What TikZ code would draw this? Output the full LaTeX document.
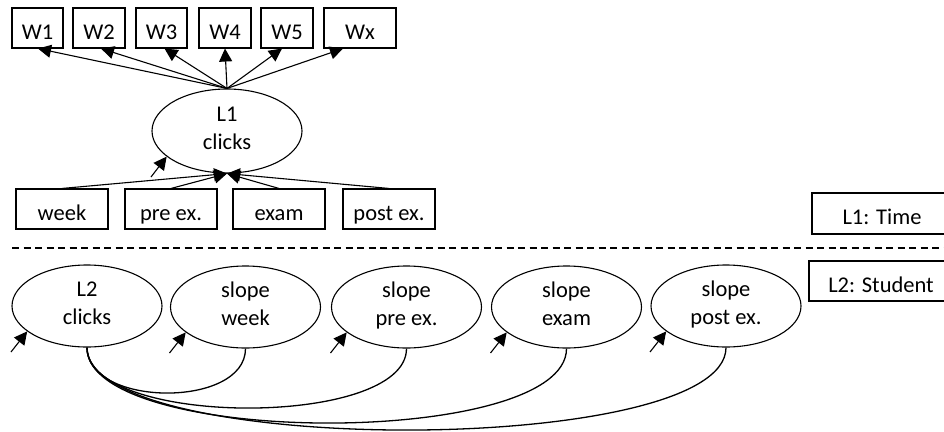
\documentclass[tikz,border=0pt]{standalone}
\usepackage{fontspec}
\setmainfont{Carlito}
\usetikzlibrary{shapes.geometric,arrows.meta,calc}

% struts that fix the baselines inside boxes and ovals
\newcommand\boxstrut{\rule[-6pt]{0pt}{34pt}}
\newcommand\ovalstrut{\rule[-6pt]{0pt}{30pt}}

\begin{document}
\begin{tikzpicture}[x=1pt,y=-1pt,
  line width=1.1pt,
  font=\fontsize{22.5}{28}\selectfont,
  box/.style={draw, rectangle, minimum height=40pt, inner sep=0pt, align=center,
    execute at begin node=\boxstrut},
  oval/.style={draw, ellipse, minimum width=150pt, minimum height=82pt, inner sep=0pt, align=center,
    execute at begin node=\ovalstrut, execute at end node=\ovalstrut},
  arr/.style={-{Triangle[length=13pt,width=13pt]}},
  link/.style={line width=1.3pt},
]
\clip (0,0) rectangle (944,431);

% level-1 indicators
\node[box, minimum width=51pt] (W1) at (37.5,28) {W1};
\node[box, minimum width=52pt] (W2) at (99,28) {W2};
\node[box, minimum width=51pt] (W3) at (161.5,28) {W3};
\node[box, minimum width=52pt] (W4) at (225,28) {W4};
\node[box, minimum width=52pt] (W5) at (287,28) {W5};
\node[box, minimum width=72pt] (Wx) at (360,28) {Wx};

% level-1 latent
\node[oval, minimum height=84pt] (L1) at (227,131) {L1\\clicks};

% level-1 predictors
\node[box, minimum width=92pt] (week) at (62,209) {week};
\node[box, minimum width=92pt] (pre) at (171,209) {pre ex.};
\node[box, minimum width=92pt] (exam) at (279,209) {exam};
\node[box, minimum width=92pt] (post) at (389,209) {post ex.};

% level labels
\node[box, minimum width=140pt, minimum height=41pt] (lab1) at (882,213.5) {L1: Time};
\node[box, minimum width=144pt] (lab2) at (881,281) {L2: Student};

% level separator
\coordinate (sepL) at (12,248);
\coordinate (sepR) at (944,248);
\draw[dash pattern=on 7pt off 4.5pt] (sepL) -- (sepR);

% level-2 latents
\node[oval] (L2) at (87,306) {L2\\clicks};
\node[oval] (sw) at (245.5,307) {slope\\week};
\node[oval] (sp) at (406.5,307) {slope\\pre ex.};
\node[oval] (se) at (566.5,307) {slope\\exam};
\node[oval] (so) at (726,306) {slope\\post ex.};

% loadings
\draw[arr] (L1.north) -- ([xshift=0.5pt]W1.south);
\draw[arr] (L1.north) -- ([xshift=2pt]W2.south);
\draw[arr] (L1.north) -- ([xshift=3pt]W3.south);
\draw[arr] (L1.north) -- (W4.south);
\draw[arr] (L1.north) -- ([xshift=-5pt]W5.south);
\draw[arr] (L1.north) -- ([xshift=-17pt]Wx.south);

% regressions on time indicators
\draw[arr] (week.north) -- (L1.south);
\draw[arr] (pre.north) -- (L1.south);
\draw[arr] (exam.north) -- (L1.south);
\draw[arr] (post.north) -- (L1.south);

% residuals
\foreach \n in {L1,L2,sw,sp,se,so}{
  \coordinate (\n-e) at ($(\n.center)+(-76,46)$);
  \draw[arr] (\n-e) -- (\n.203);
}

% covariances among level-2 latents
\draw[link] (L2.south) .. controls +(0,60) and +(0,60) .. (sw.south);
\draw[link] (L2.south) .. controls +(0,80) and +(0,80) .. (sp.south);
\draw[link] (L2.south) .. controls +(0,100) and +(0,100) .. (se.south);
\draw[link] (L2.south) .. controls +(0,110) and +(0,110) .. (so.south);
\end{tikzpicture}
\end{document}
